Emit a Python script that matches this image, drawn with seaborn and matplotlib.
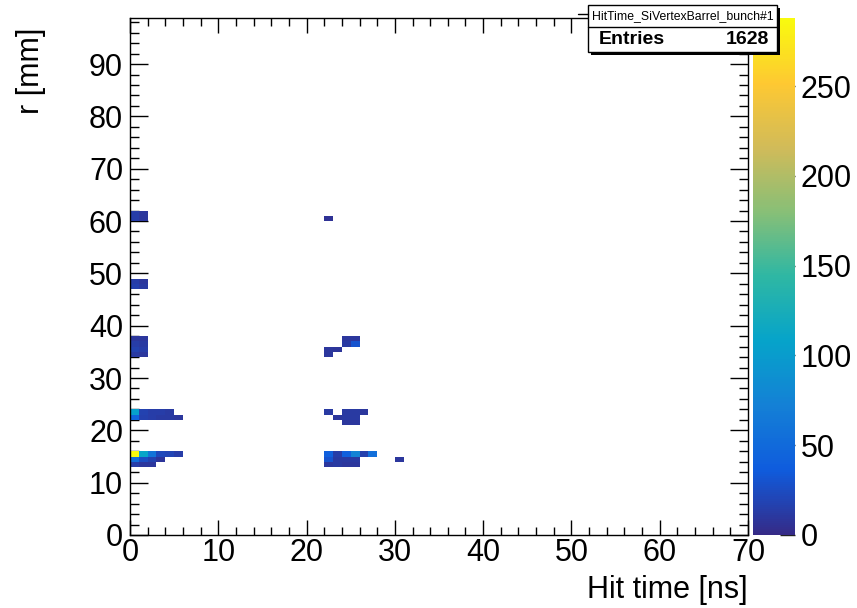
import numpy as np
import pandas as pd
import matplotlib
matplotlib.use("Agg")
import matplotlib.pyplot as plt
from matplotlib.colors import LinearSegmentedColormap
from matplotlib.patches import Rectangle
from matplotlib.lines import Line2D
from matplotlib.ticker import MultipleLocator, NullLocator
import seaborn as sns

# ---- data: bin lower edges (ns, mm) and bin contents ----
hit_time = [0, 1, 2, 3, 4, 5,
            0, 1, 2, 3,
            0, 1, 2,
            0, 1, 2, 3, 4,
            0, 1, 2, 3, 4, 5,
            0, 1, 0, 1, 0, 1, 0, 1,
            0, 1, 0, 1,
            0, 1, 0, 1,
            22,
            22, 22, 23, 24, 25, 24, 25,
            22, 23, 24, 25, 26, 24, 25, 24, 25,
            22, 23, 24, 25, 26, 27,
            22, 23, 24, 25,
            22, 23, 24, 25,
            30]
radius = [15, 15, 15, 15, 15, 15,
          14, 14, 14, 14,
          13, 13, 13,
          23, 23, 23, 23, 23,
          22, 22, 22, 22, 22, 22,
          37, 37, 36, 36, 35, 35, 34, 34,
          48, 48, 47, 47,
          61, 61, 60, 60,
          60,
          35, 34, 35, 37, 37, 36, 36,
          23, 22, 23, 23, 23, 22, 22, 21, 21,
          15, 15, 15, 15, 15, 15,
          14, 14, 14, 14,
          13, 13, 13, 13,
          14]
entries = [288, 110, 60, 22, 20, 14,
           55, 25, 18, 8,
           14, 10, 10,
           105, 18, 14, 14, 12,
           45, 16, 14, 12, 12, 10,
           10, 10, 14, 12, 18, 14, 12, 10,
           14, 10, 16, 12,
           14, 10, 14, 10,
           6,
           10, 10, 8, 10, 10, 12, 30,
           12, 10, 12, 12, 10, 12, 12, 10, 10,
           40, 14, 40, 75, 16, 55,
           30, 12, 12, 12,
           10, 12, 10, 10,
           10]

x_ticks = [0, 10, 20, 30, 40, 50, 60, 70]
y_ticks = [0, 10, 20, 30, 40, 50, 60, 70, 80, 90]
cbar_ticks = [0, 50, 100, 150, 200, 250]
hist_name = "HitTime_SiVertexBarrel_bunch#1"
n_entries = 1628

df = pd.DataFrame({"t": np.array(hit_time) + 0.5,
                   "r": np.array(radius) + 0.5,
                   "w": entries})

# ROOT kBird palette
stops = [0.0, 0.125, 0.25, 0.375, 0.5, 0.625, 0.75, 0.875, 1.0]
red = [0.2082, 0.0592, 0.0780, 0.0232, 0.1802, 0.5301, 0.8186, 0.9956, 0.9764]
green = [0.1664, 0.3599, 0.5041, 0.6419, 0.7178, 0.7492, 0.7328, 0.7862, 0.9832]
blue = [0.5293, 0.8684, 0.8385, 0.7914, 0.6425, 0.4662, 0.3499, 0.1968, 0.0539]
bird = LinearSegmentedColormap.from_list(
    "bird", list(zip(stops, zip(red, green, blue))), N=255)

sns.set_style("white")
plt.rcParams["font.family"] = ["Liberation Sans", "DejaVu Sans"]
plt.rcParams["text.color"] = "black"
plt.rcParams["axes.labelcolor"] = "black"
plt.rcParams["xtick.color"] = "black"
plt.rcParams["ytick.color"] = "black"

W, H = 857, 608
fig = plt.figure(figsize=(W / 100, H / 100), dpi=100)

def fx(px):
    return px / W

def fy(py):
    return 1 - py / H

ax = fig.add_axes([fx(130), fy(535), fx(748) - fx(130), fy(18) - fy(535)])
cax = fig.add_axes([fx(753), fy(535), fx(795) - fx(753), fy(18) - fy(535)])

sns.histplot(data=df, x="t", y="r", weights="w", binwidth=1,
             binrange=((0, 70), (0, 99)), cmap=bird, vmin=0, vmax=288,
             cbar=True, cbar_ax=cax, ax=ax)

ax.set_xlim(0, 70)
ax.set_ylim(0, 98.8)
ax.set_xticks(x_ticks)
ax.set_yticks(y_ticks)
ax.xaxis.set_minor_locator(MultipleLocator(2))
ax.yaxis.set_minor_locator(MultipleLocator(2))
ax.tick_params(axis="x", which="major", direction="in", length=11, width=1,
               top=True, bottom=True, labelsize=22, pad=2,
               color="black", labelcolor="black")
ax.tick_params(axis="x", which="minor", direction="in", length=5.5, width=1,
               top=True, bottom=True, color="black")
ax.tick_params(axis="y", which="major", direction="in", length=13, width=1,
               left=True, right=True, labelsize=22, pad=5,
               color="black", labelcolor="black")
ax.tick_params(axis="y", which="minor", direction="in", length=6.5, width=1,
               left=True, right=True, color="black")
for s in ax.spines.values():
    s.set_visible(True)
    s.set_color("black")
    s.set_linewidth(1)

ax.set_xlabel("Hit time [ns]", fontsize=22, loc="right", color="black")
ax.xaxis.set_label_coords(1.0, (535 - 575) / 517)
ax.set_ylabel("r [mm]", fontsize=22, loc="top", color="black")
ax.yaxis.set_label_coords((46 - 130) / 618, (535 - 28) / 517)

cb = ax.collections[0].colorbar
cb.outline.set_visible(False)
cb.set_ticks(cbar_ticks)
cax.tick_params(axis="y", which="both", direction="in", length=11, width=1,
                right=True, left=False, labelright=True, labelleft=False,
                labelsize=22, pad=4, color="#222222", labelcolor="black")
cax.yaxis.set_minor_locator(NullLocator())

# ---- statistics box ----
x0, x1, y0, y1, ymid = 588, 777, 5, 52, 27
shadow = Rectangle((fx(x0 + 3), fy(y1 + 3)), fx(x1 - x0), fy(y0) - fy(y1),
                   transform=fig.transFigure, facecolor="black",
                   edgecolor="none", zorder=10)
box = Rectangle((fx(x0), fy(y1)), fx(x1 - x0), fy(y0) - fy(y1),
                transform=fig.transFigure, facecolor="white",
                edgecolor="black", linewidth=1, zorder=11)
fig.add_artist(shadow)
fig.add_artist(box)
fig.add_artist(Line2D([fx(x0), fx(x1)], [fy(ymid), fy(ymid)],
                      transform=fig.transFigure, color="black", lw=1, zorder=12))
fig.add_artist(Line2D([fx(578), fx(x0)], [fy(14), fy(14)],
                      transform=fig.transFigure, color="black", lw=1, zorder=12))
fig.text(fx((x0 + x1) / 2), fy(16), hist_name, ha="center", va="center",
         fontsize=8.8, color="black", zorder=13)
fig.text(fx(599), fy(40), "Entries", ha="left", va="center",
         fontsize=14, fontweight="bold", color="black", zorder=13)
fig.text(fx(769), fy(40), f"{n_entries}", ha="right", va="center",
         fontsize=14, fontweight="bold", color="black", zorder=13)

fig.savefig("out.png", dpi=100, facecolor="white")
